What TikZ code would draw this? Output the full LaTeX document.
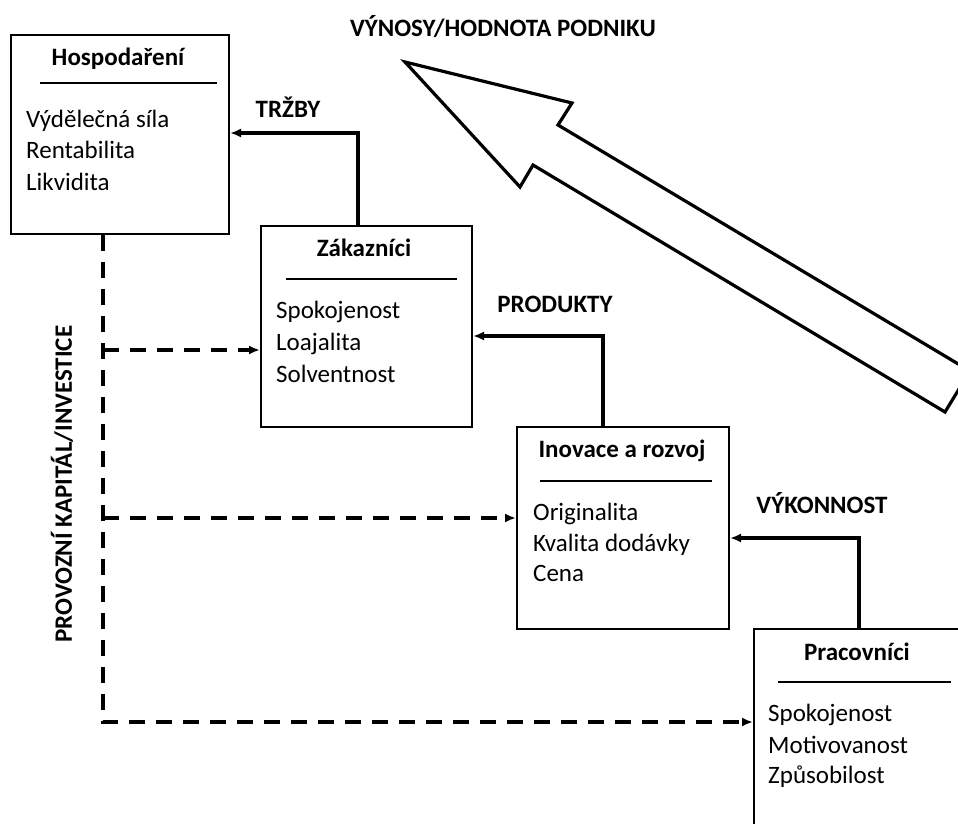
\documentclass[tikz,border=0pt]{standalone}
\usepackage{fontspec}
\setmainfont{Carlito}
\usetikzlibrary{arrows.meta}
\begin{document}
\begin{tikzpicture}[x=1pt,y=-1pt,
  box/.style={draw=black,line width=2pt,fill=none,inner sep=0pt,anchor=north west},
  title/.style={font=\fontsize{25}{30}\selectfont\bfseries,anchor=base,inner sep=0pt},
  item/.style={font=\fontsize{25}{30}\selectfont,anchor=base west,inner sep=0pt},
  lbl/.style={font=\fontsize{25}{30}\selectfont\bfseries,inner sep=0pt},
  rule/.style={line width=1.8pt},
  conn/.style={line width=3.6pt,-{Latex[length=11pt,width=9pt]}},
  dline/.style={line width=3.6pt,dash pattern=on 16pt off 11pt},
  darrow/.style={dline,-{Latex[length=11pt,width=9pt]}},
  bigarrow/.style={draw=black,line width=3.2pt,line join=miter,fill=white}]
\useasboundingbox (0,0) rectangle (958,824);
\clip (0,0) rectangle (958,824);
\fill[white] (0,0) rectangle (958,824);

% boxes
\node[box,minimum width=218pt,minimum height=199pt] (hosp) at (10,34) {};
\node[box,minimum width=211pt,minimum height=201pt] (zak) at (260,225) {};
\node[box,minimum width=212pt,minimum height=202pt] (inov) at (516,426) {};
\node[box,minimum width=230pt,minimum height=220pt] (prac) at (753,628) {};

% Hospodaření
\node[title] (hospT) at (118,66) {Hospodaření};
\draw[rule] (40,83) -- (217,83);
\node[item] (h1) at (26,128) {Výdělečná síla};
\node[item] (h2) at (26,158) {Rentabilita};
\node[item] (h3) at (26,190) {Likvidita};

% Zákazníci
\node[title] (zakT) at (364,256) {Zákazníci};
\draw[rule] (286,279) -- (457,279);
\node[item] (z1) at (276,318) {Spokojenost};
\node[item] (z2) at (276,350) {Loajalita};
\node[item] (z3) at (276,382) {Solventnost};

% Inovace a rozvoj
\node[title] (inovT) at (622,457) {Inovace a rozvoj};
\draw[rule] (540,481) -- (712,481);
\node[item] (i1) at (533,520) {Originalita};
\node[item] (i2) at (533,551) {Kvalita dodávky};
\node[item] (i3) at (533,581) {Cena};

% Pracovníci
\node[title] (pracT) at (857,660) {Pracovníci};
\draw[rule] (778,682) -- (951,682);
\node[item] (p1) at (768,721) {Spokojenost};
\node[item] (p2) at (768,753) {Motivovanost};
\node[item] (p3) at (768,783) {Způsobilost};

% flows between the areas
\coordinate (trz) at (358,133);
\coordinate (prd) at (603,336);
\coordinate (vyk) at (859,538);
\draw[conn] (trz |- zak.north) |- (trz -| hosp.east);
\draw[conn] (prd |- inov.north) |- (prd -| zak.east);
\draw[conn] (vyk |- prac.north) |- (vyk -| inov.east);
\node[lbl] (lTrz) at (288,107) {TRŽBY};
\node[lbl] (lPrd) at (555,304) {PRODUKTY};
\node[lbl] (lVyk) at (822,503) {VÝKONNOST};

% capital / investment bus
\coordinate (bus) at (103,0);
\coordinate (b1) at (103,350);
\coordinate (b2) at (103,518);
\coordinate (b3) at (103,722);
\draw[darrow] (bus |- hosp.south) -- (b3) -- (b3 -| prac.west);
\draw[darrow] (b1) -- (b1 -| zak.west);
\draw[darrow] (b2) -- (b2 -| inov.west);
\node[lbl,rotate=90] (lInv) at (62,484) {PROVOZNÍ KAPITÁL/INVESTICE};

% value arrow
\draw[bigarrow] (405,62) -- (572,103) -- (558,125) -- (970,371)
  -- (945,412) -- (533,165) -- (520,187) -- cycle;
\node[lbl] (lVal) at (503,27) {VÝNOSY/HODNOTA PODNIKU};
\end{tikzpicture}
\end{document}
